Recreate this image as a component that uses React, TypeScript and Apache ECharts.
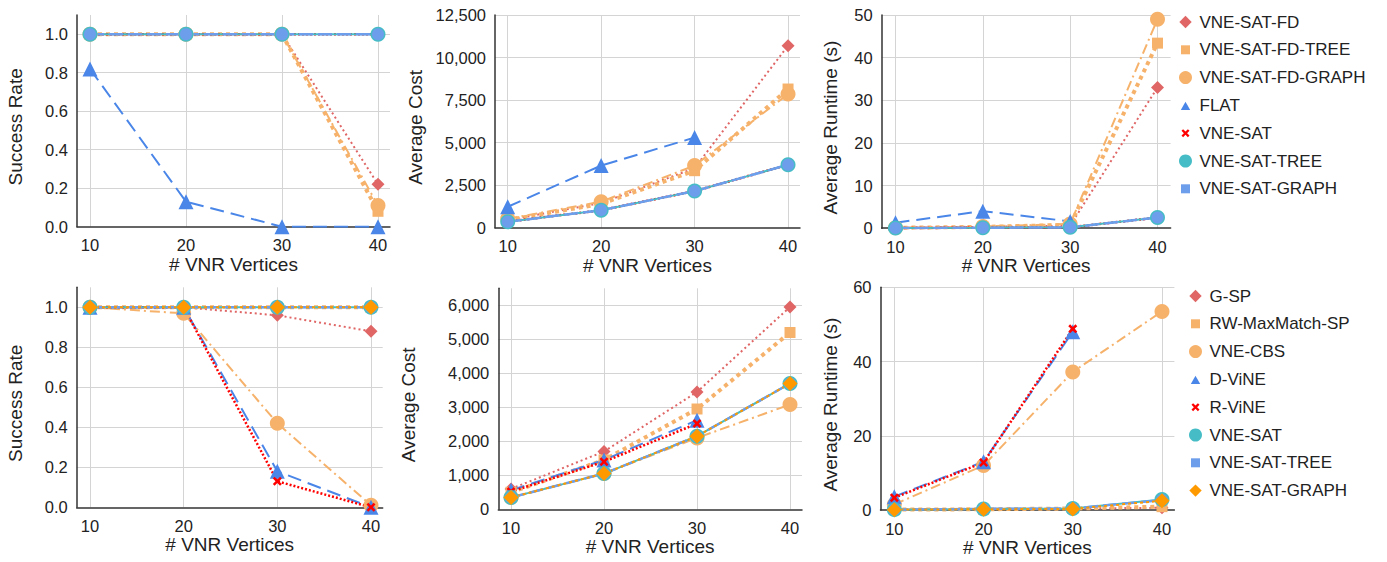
import React, { useEffect, useRef } from "react";
import * as echarts from "echarts";

const FONT = 'Arial, "Liberation Sans", Helvetica, sans-serif';

const xValues = [10, 20, 30, 40];

const topNames = ["VNE-SAT-FD", "VNE-SAT-FD-TREE", "VNE-SAT-FD-GRAPH", "FLAT", "VNE-SAT", "VNE-SAT-TREE", "VNE-SAT-GRAPH"];
const bottomNames = ["G-SP", "RW-MaxMatch-SP", "VNE-CBS", "D-ViNE", "R-ViNE", "VNE-SAT", "VNE-SAT-TREE", "VNE-SAT-GRAPH"];

// Top row values (rows follow topNames order)
const topSuccess = [
  [1, 1, 1, 0.22],
  [1, 1, 1, 0.08],
  [1, 1, 1, 0.11],
  [0.82, 0.13, 0, 0],
  [1, 1, 1, 1],
  [1, 1, 1, 1],
  [1, 1, 1, 1],
];
const topCost = [
  [450, 1450, 3500, 10700],
  [450, 1400, 3350, 8150],
  [520, 1530, 3650, 7850],
  [1230, 3650, 5300, null],
  [350, 1030, 2150, 3700],
  [350, 1030, 2150, 3700],
  [350, 1030, 2150, 3700],
];
const topRuntime = [
  [0.1, 0.3, 0.6, 33],
  [0.1, 0.3, 0.8, 43.4],
  [0.1, 0.4, 1.0, 49],
  [1.3, 4.0, 1.6, null],
  [0.05, 0.1, 0.2, 2.5],
  [0.05, 0.1, 0.2, 2.5],
  [0.05, 0.1, 0.2, 2.5],
];

// Bottom row values (rows follow bottomNames order)
const bottomSuccess = [
  [1, 1, 0.96, 0.88],
  [1, 1, 1, 1],
  [1, 0.97, 0.42, 0.01],
  [1, 1, 0.18, 0],
  [1, 1, 0.13, 0],
  [1, 1, 1, 1],
  [1, 1, 1, 1],
  [1, 1, 1, 1],
];
const bottomCost = [
  [600, 1700, 3450, 5950],
  [500, 1450, 2950, 5200],
  [350, 1050, 2100, 3080],
  [560, 1450, 2620, null],
  [520, 1400, 2520, null],
  [350, 1050, 2150, 3700],
  [350, 1050, 2150, 3700],
  [350, 1050, 2150, 3700],
];
const bottomRuntime = [
  [0.2, 0.3, 0.4, 0.6],
  [0.1, 0.2, 0.4, 0.9],
  [1.5, 12, 37.2, 53.5],
  [3.6, 13, 48, null],
  [3.3, 12.8, 48.8, null],
  [0.1, 0.3, 0.4, 2.8],
  [0.1, 0.3, 0.4, 2.7],
  [0.1, 0.2, 0.3, 2.5],
];

const X_PATH = "path://M2,0L5,3L8,0L10,2L7,5L10,8L8,10L5,7L2,10L0,8L3,5L0,2Z";
const PAD = "M0,0L0,0M13,13L13,13";
const ICON_DIAMOND = "path://" + PAD + "M6.5,0.3L12.7,6.5L6.5,12.7L0.3,6.5Z";
const ICON_SQUARE = "path://" + PAD + "M2,2L11,2L11,11L2,11Z";
const ICON_TRIANGLE = "path://" + PAD + "M1.8,11.2L11.2,11.2L6.5,2.8Z";
const ICON_X = "path://" + PAD + "M4.1,2.5L6.5,4.9L8.9,2.5L10.5,4.1L8.1,6.5L10.5,8.9L8.9,10.5L6.5,8.1L4.1,10.5L2.5,8.9L4.9,6.5L2.5,4.1Z";

type Sty = { color: string; symbol: string; size: number; dash: any; width: number; icon: string };

const topStyles: Sty[] = [
  { color: "#e06666", symbol: "diamond", size: 13, dash: [2, 3], width: 2, icon: ICON_DIAMOND },
  { color: "#f6b26b", symbol: "rect", size: 11, dash: [4, 4], width: 4, icon: ICON_SQUARE },
  { color: "#f6b26b", symbol: "circle", size: 15, dash: [10, 4, 2, 4], width: 2, icon: "circle" },
  { color: "#4a86e8", symbol: "triangle", size: 15, dash: [14, 7], width: 2, icon: ICON_TRIANGLE },
  { color: "#ff0000", symbol: X_PATH, size: 9, dash: [2, 2], width: 2.5, icon: ICON_X },
  { color: "#46bdc6", symbol: "circle", size: 15, dash: "solid", width: 2, icon: "circle" },
  { color: "#6d9eeb", symbol: "circle", size: 12, dash: [14, 5], width: 2.5, icon: ICON_SQUARE },
];
const bottomStyles: Sty[] = [
  { color: "#e06666", symbol: "diamond", size: 13, dash: [2, 3], width: 2, icon: ICON_DIAMOND },
  { color: "#f6b26b", symbol: "rect", size: 11, dash: [4, 4], width: 4, icon: ICON_SQUARE },
  { color: "#f6b26b", symbol: "circle", size: 15, dash: [10, 4, 2, 4], width: 2, icon: "circle" },
  { color: "#4a86e8", symbol: "triangle", size: 15, dash: [14, 7], width: 2, icon: ICON_TRIANGLE },
  { color: "#ff0000", symbol: X_PATH, size: 9, dash: [2, 2], width: 2.5, icon: ICON_X },
  { color: "#46bdc6", symbol: "circle", size: 15, dash: "solid", width: 2, icon: "circle" },
  { color: "#6d9eeb", symbol: "circle", size: 12, dash: [14, 5], width: 2.5, icon: ICON_SQUARE },
  { color: "#ff9900", symbol: "diamond", size: 15, dash: [3, 3], width: 2, icon: ICON_DIAMOND },
];

const fmt1 = (v: number) => v.toFixed(1);
const fmtThousands = (v: number) => Math.round(v).toLocaleString("en-US");
const fmt0 = (v: number) => String(Math.round(v));

const panels = [
  { grid: { left: 77, top: 15, width: 313, height: 211.7 }, xMin: 8.646, xMax: 41.25, yMax: 1.1, yInt: 0.2, hideTop: true, yName: "Success Rate", yGap: 52, fmt: fmt1, rows: topSuccess, styles: topStyles, names: topNames },
  { grid: { left: 495, top: 15, width: 305, height: 212.7 }, xMin: 8.64, xMax: 41.28, yMax: 12500, yInt: 2500, hideTop: false, yName: "Average Cost", yGap: 70, fmt: fmtThousands, rows: topCost, styles: topStyles, names: topNames },
  { grid: { left: 881.6, top: 15, width: 289, height: 213.2 }, xMin: 8.41, xMax: 41.5, yMax: 50, yInt: 10, hideTop: false, yName: "Average Runtime (s)", yGap: 42, fmt: fmt0, rows: topRuntime, styles: topStyles, names: topNames },
  { grid: { left: 76.7, top: 287.3, width: 306, height: 220 }, xMin: 8.58, xMax: 41.25, yMax: 1.1, yInt: 0.2, hideTop: true, yName: "Success Rate", yGap: 52, fmt: fmt1, rows: bottomSuccess, styles: bottomStyles, names: bottomNames },
  { grid: { left: 498.3, top: 288.3, width: 303.7, height: 221 }, xMin: 8.63, xMax: 41.29, yMax: 6500, yInt: 1000, hideTop: true, yName: "Average Cost", yGap: 80, fmt: fmtThousands, rows: bottomCost, styles: bottomStyles, names: bottomNames },
  { grid: { left: 880.5, top: 287.3, width: 293.9, height: 222.7 }, xMin: 8.45, xMax: 41.39, yMax: 60, yInt: 20, hideTop: false, yName: "Average Runtime (s)", yGap: 41, fmt: fmt0, rows: bottomRuntime, styles: bottomStyles, names: bottomNames },
];

const TEXT = "#222";
const AXIS = "#333";
const GRIDC = "#d4d4d4";

function buildOption() {
  const grid: any[] = [];
  const xAxis: any[] = [];
  const yAxis: any[] = [];
  const series: any[] = [];
  panels.forEach((p, idx) => {
    grid.push({ ...p.grid, containLabel: false });
    xAxis.push({
      type: "value",
      gridIndex: idx,
      min: p.xMin,
      max: p.xMax,
      splitNumber: 3,
      name: "# VNR Vertices",
      nameLocation: "middle",
      nameGap: 27,
      nameTextStyle: { fontFamily: FONT, fontSize: 19, color: TEXT },
      axisLine: { show: true, onZero: false, lineStyle: { color: AXIS, width: 1.5 } },
      axisTick: { show: false },
      axisLabel: { showMinLabel: false, showMaxLabel: false, fontFamily: FONT, fontSize: 16.5, color: TEXT, margin: 10 },
      splitLine: { show: true, showMinLine: false, showMaxLine: false, lineStyle: { color: GRIDC, width: 1 } },
    });
    yAxis.push({
      type: "value",
      gridIndex: idx,
      min: 0,
      max: p.yMax,
      interval: p.yInt,
      name: p.yName,
      nameLocation: "middle",
      nameGap: p.yGap,
      nameTextStyle: { fontFamily: FONT, fontSize: 19, color: TEXT, padding: [0, 12, 0, 0] },
      axisLine: { show: true, onZero: false, lineStyle: { color: AXIS, width: 1.5 } },
      axisTick: { show: false },
      axisLabel: { showMaxLabel: !p.hideTop, fontFamily: FONT, fontSize: 16.5, color: TEXT, margin: 9, formatter: p.fmt },
      splitLine: { show: true, showMinLine: false, showMaxLine: !p.hideTop, lineStyle: { color: GRIDC, width: 1 } },
    });
    p.rows.forEach((row, i) => {
      const s = p.styles[i];
      series.push({
        type: "line",
        name: p.names[i],
        xAxisIndex: idx,
        yAxisIndex: idx,
        data: xValues.map((x, j) => [x, row[j]]).filter((d) => d[1] !== null),
        symbol: s.symbol,
        symbolSize: s.size,
        showSymbol: true,
        itemStyle: { color: s.color },
        lineStyle: { color: s.color, width: s.width, type: s.dash },
        emphasis: { disabled: true },
      });
    });
  });

  const legendBase = {
    orient: "vertical",
    itemWidth: 18,
    itemHeight: 13,
    itemGap: 10.8,
    selectedMode: false,
    textStyle: { fontFamily: FONT, fontSize: 17, color: TEXT },
    itemStyle: { borderWidth: 0 },
    lineStyle: { width: 0 },
  };
  const legend = [
    {
      ...legendBase,
      left: 1174,
      top: 8.5,
      data: topNames.map((n, i) => ({ name: n, icon: topStyles[i].icon, itemStyle: { color: topStyles[i].color, borderWidth: 0 } })),
    },
    {
      ...legendBase,
      left: 1184,
      top: 282.5,
      data: bottomNames.map((n, i) => ({ name: n, icon: bottomStyles[i].icon, itemStyle: { color: bottomStyles[i].color, borderWidth: 0 } })),
    },
  ];

  return {
    animation: false,
    backgroundColor: "#ffffff",
    textStyle: { fontFamily: FONT },
    grid,
    xAxis,
    yAxis,
    legend,
    series,
  };
}

export default function App() {
  const ref = useRef<HTMLDivElement>(null);
  useEffect(() => {
    if (!ref.current) return;
    const chart = echarts.init(ref.current, undefined, { renderer: "svg" });
    chart.setOption(buildOption() as any);
    return () => chart.dispose();
  }, []);
  return <div ref={ref} style={{ position: "fixed", left: 0, top: 0, width: 1387, height: 562, background: "#fff" }} />;
}
